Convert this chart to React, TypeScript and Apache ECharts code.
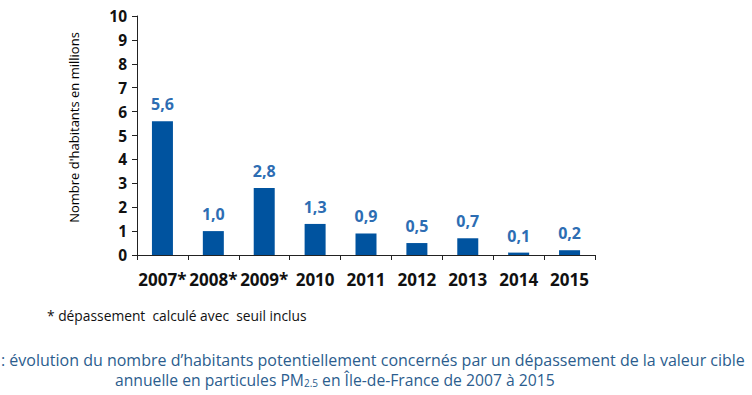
import React, { useEffect, useRef } from "react";
import * as echarts from "echarts";

const categories = ["2007*", "2008*", "2009*", "2010", "2011", "2012", "2013", "2014", "2015"];
const values = [5.6, 1.0, 2.8, 1.3, 0.9, 0.5, 0.7, 0.1, 0.2];
const yTicks = { min: 0, max: 10, interval: 1 };
const yAxisName = "Nombre d'habitants en millions";
const footnote = "* dépassement  calculé avec  seuil inclus";
const captionLine1 = ": évolution du nombre d’habitants potentiellement concernés par un dépassement de la valeur cible";
const captionLine2a = "annuelle en particules PM";
const captionSub = "2.5";
const captionLine2b = " en Île-de-France de 2007 à 2015";

export default function App() {
  const ref = useRef<HTMLDivElement>(null);
  useEffect(() => {
    if (!ref.current) return;
    const chart = echarts.init(ref.current, null, { renderer: "svg" });
    const font = "'Open Sans', 'DejaVu Sans', sans-serif";
    chart.setOption({
      animation: false,
      backgroundColor: "#ffffff",
      grid: { left: 137, right: 157, top: 16, bottom: 140 },
      xAxis: {
        type: "category",
        data: categories,
        axisLine: { lineStyle: { color: "#222", width: 1 } },
        axisTick: { show: true, length: 5, alignWithLabel: false, lineStyle: { color: "#222" } },
        axisLabel: { color: "#111", fontWeight: "bold", fontSize: 17, fontFamily: font, margin: 16, interval: 0 },
      },
      yAxis: {
        type: "value",
        min: yTicks.min,
        max: yTicks.max,
        interval: yTicks.interval,
        name: yAxisName,
        nameLocation: "middle",
        nameGap: 57,
        nameTextStyle: { color: "#000", fontSize: 13, fontFamily: font, padding: [0, 0, 0, 16] },
        splitLine: { show: false },
        axisLine: { show: true, lineStyle: { color: "#222", width: 1 } },
        axisTick: { show: true, length: 5, lineStyle: { color: "#222" } },
        axisLabel: { color: "#111", fontWeight: "bold", fontSize: 15.5, fontFamily: font, margin: 10 },
      },
      series: [
        {
          type: "bar",
          data: values,
          barWidth: 21,
          itemStyle: { color: "#00539f" },
          label: {
            show: true,
            position: "top",
            distance: 9,
            color: "#2d6db3",
            fontWeight: "bold",
            fontSize: 16,
            fontFamily: font,
            formatter: (p: any) => Number(p.value).toFixed(1).replace(".", ","),
          },
        },
      ],
      graphic: [
        {
          type: "text",
          left: 47,
          top: 308,
          style: { text: footnote, fill: "#111", font: `13.8px ${font}` },
        },
        {
          type: "text",
          left: 1,
          top: 352,
          style: { text: captionLine1, fill: "#2b5d8e", font: `16px ${font}` },
        },
        {
          type: "text",
          left: 115,
          top: 372,
          style: {
            text: `{a|${captionLine2a}}{s|${captionSub}}{a|${captionLine2b}}`,
            rich: {
              a: { fill: "#2b5d8e", fontSize: 15.7, fontFamily: font },
              s: { fill: "#2b5d8e", fontSize: 10, fontFamily: font, verticalAlign: "bottom", padding: [5, 0, 0, 0] },
            },
          },
        },
      ],
    });
    return () => chart.dispose();
  }, []);
  return <div ref={ref} style={{ position: "absolute", left: 0, top: 0, width: 752, height: 395 }} />;
}
